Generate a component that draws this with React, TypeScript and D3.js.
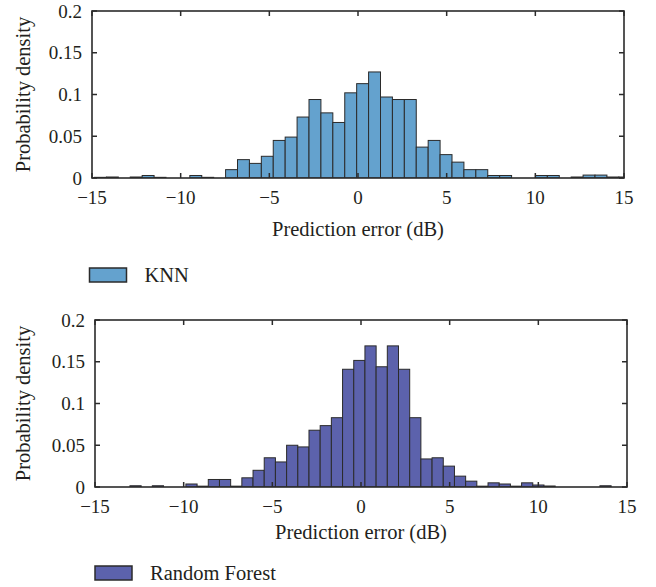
import React from "react";
import * as d3 from "d3";

const xTicks = [-15, -10, -5, 0, 5, 10, 15];
const yTicks = [0, 0.05, 0.1, 0.15, 0.2];
const yTickLabels = ["0", "0.05", "0.1", "0.15", "0.2"];

const knnFirstEdge = -15.531;
const knnBinWidth = 0.672;
const knnDensity = [
  0, 0.0008, 0.0012, 0, 0.0012, 0.003, 0.0008, 0, 0, 0.003, 0.0008, 0,
  0.01, 0.022, 0.0175, 0.026, 0.045, 0.049, 0.073, 0.094, 0.078, 0.0665,
  0.102, 0.113, 0.127, 0.097, 0.094, 0.094, 0.037, 0.045, 0.028, 0.019,
  0.01, 0.01, 0.003, 0.003, 0, 0, 0.003, 0.003, 0, 0.0012, 0.0035, 0.0035,
  0.0012, 0.0012,
];

const rfFirstEdge = -13.66;
const rfBinWidth = 0.631;
const rfDensity = [
  0, 0.0015, 0, 0.0015, 0, 0, 0.0036, 0.001, 0.009, 0.009, 0.001, 0.011,
  0.02, 0.035, 0.03, 0.05, 0.048, 0.068, 0.0735, 0.083, 0.141, 0.1516,
  0.169, 0.144, 0.169, 0.141, 0.083, 0.0336, 0.035, 0.025, 0.013, 0.007,
  0.001, 0.005, 0.0036, 0.001, 0.005, 0.0024, 0.0012, 0, 0, 0, 0, 0.0015,
];

const FONT = "'Liberation Serif', 'Times New Roman', serif";
const AXIS = "#2b2b2b";
const TEXT = "#231f20";

type PanelProps = {
  id: string;
  left: number;
  right: number;
  top: number;
  bottom: number;
  firstEdge: number;
  binWidth: number;
  density: number[];
  fill: string;
  legend: string;
  legendX: number;
  legendY: number;
  xLabelY: number;
};

function Panel(p: PanelProps) {
  const x = d3.scaleLinear().domain([-15, 15]).range([p.left, p.right]);
  const y = d3.scaleLinear().domain([0, 0.2]).range([p.bottom, p.top]);
  const fmt = d3.format("");
  const bins = p.density.map((d, i) => ({
    x0: p.firstEdge + i * p.binWidth,
    x1: p.firstEdge + (i + 1) * p.binWidth,
    d,
  }));
  const tl = 5;
  return (
    <g>
      <defs>
        <clipPath id={p.id}>
          <rect x={p.left} y={p.top} width={p.right - p.left} height={p.bottom - p.top} />
        </clipPath>
      </defs>
      <g clipPath={`url(#${p.id})`}>
        {bins
          .filter((b) => b.d > 0)
          .map((b, i) => (
            <rect
              key={i}
              x={x(b.x0)}
              y={y(b.d)}
              width={x(b.x1) - x(b.x0)}
              height={y(0) - y(b.d)}
              fill={p.fill}
              stroke={AXIS}
              strokeWidth={1}
            />
          ))}
      </g>
      {/* ticks */}
      {xTicks.map((t) => (
        <g key={"xt" + t}>
          <line x1={x(t)} x2={x(t)} y1={p.bottom} y2={p.bottom - tl} stroke={AXIS} strokeWidth={1.5} />
          <line x1={x(t)} x2={x(t)} y1={p.top} y2={p.top + tl} stroke={AXIS} strokeWidth={1.5} />
          <text
            x={x(t)}
            y={p.bottom + 25.5}
            textAnchor="middle"
            fontFamily={FONT}
            fontSize={19}
            fill={TEXT}
          >
            {fmt(t)}
          </text>
        </g>
      ))}
      {yTicks.map((t, i) => (
        <g key={"yt" + t}>
          <line x1={p.left} x2={p.left + tl} y1={y(t)} y2={y(t)} stroke={AXIS} strokeWidth={1.5} />
          <line x1={p.right} x2={p.right - tl} y1={y(t)} y2={y(t)} stroke={AXIS} strokeWidth={1.5} />
          <text
            x={p.left - 10}
            y={y(t)}
            dy="0.35em"
            textAnchor="end"
            fontFamily={FONT}
            fontSize={19}
            fill={TEXT}
          >
            {yTickLabels[i]}
          </text>
        </g>
      ))}
      <rect
        x={p.left}
        y={p.top}
        width={p.right - p.left}
        height={p.bottom - p.top}
        fill="none"
        stroke={AXIS}
        strokeWidth={1.6}
      />
      <text
        x={(p.left + p.right) / 2}
        y={p.xLabelY}
        textAnchor="middle"
        fontFamily={FONT}
        fontSize={20.5}
        fill={TEXT}
      >
        Prediction error (dB)
      </text>
      <text
        transform={`translate(30,${(p.top + p.bottom) / 2}) rotate(-90)`}
        textAnchor="middle"
        fontFamily={FONT}
        fontSize={20.5}
        fill={TEXT}
      >
        Probability density
      </text>
      <rect
        x={p.legendX}
        y={p.legendY}
        width={37}
        height={14}
        fill={p.fill}
        stroke={AXIS}
        strokeWidth={1.5}
      />
      <text
        x={p.legendX + 55}
        y={p.legendY + 13.5}
        fontFamily={FONT}
        fontSize={20.5}
        fill={TEXT}
      >
        {p.legend}
      </text>
    </g>
  );
}

export default function App() {
  return (
    <svg
      width={656}
      height={587}
      style={{ position: "fixed", left: 0, top: 0, background: "#fff" }}
    >
      <rect width={656} height={587} fill="#fff" />
      <Panel
        id="clipTop"
        left={92}
        right={624}
        top={11}
        bottom={178}
        firstEdge={knnFirstEdge}
        binWidth={knnBinWidth}
        density={knnDensity}
        fill="#64a2ce"
        legend="KNN"
        legendX={89.5}
        legendY={268}
        xLabelY={235.5}
      />
      <Panel
        id="clipBot"
        left={95}
        right={627}
        top={320}
        bottom={487}
        firstEdge={rfFirstEdge}
        binWidth={rfBinWidth}
        density={rfDensity}
        fill="#5c62ac"
        legend="Random Forest"
        legendX={95}
        legendY={566}
        xLabelY={538.5}
      />
    </svg>
  );
}
